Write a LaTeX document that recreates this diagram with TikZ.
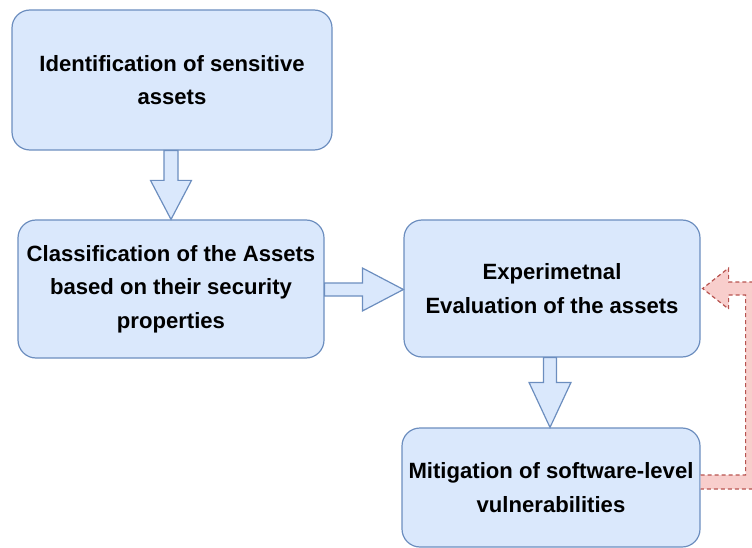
\documentclass[tikz,border=0pt]{standalone}
\usepackage{fontspec}
\setmainfont{Liberation Sans}
\usetikzlibrary{calc}
\definecolor{bfill}{HTML}{DAE8FC}
\definecolor{bline}{HTML}{6C8EBF}
\definecolor{rfill}{HTML}{F8CECC}
\definecolor{rline}{HTML}{B85450}
\tikzset{
  box/.style={draw=bline, fill=bfill, line width=1.2pt, rounded corners=18pt,
    align=center, inner sep=0pt,
    font=\fontsize{22.1}{33.5}\selectfont\bfseries},
  barrow/.style={draw=bline, fill=bfill, line width=1.2pt, line join=miter},
  farrow/.style={draw=rline, fill=rfill, line width=1.2pt, dash pattern=on 4pt off 3pt}
}
\begin{document}
\begin{tikzpicture}[x=1pt,y=1pt]
\useasboundingbox (0,0) rectangle (752,-548);
\clip (0,0) rectangle (752,-548);
% boxes
\node[box, minimum width=320pt, minimum height=140pt] (b1) at (172,-80)
  {Identification of sensitive\\assets};
\node[box, minimum width=306pt, minimum height=138pt] (b2) at (171,-289)
  {Classification of the Assets\\based on their security\\properties};
\node[box, minimum width=296pt, minimum height=137pt] (b3) at (552,-288.5)
  {Experimetnal\\Evaluation of the assets};
\node[box, minimum width=298pt, minimum height=119pt] (b4) at (551,-487.5)
  {Mitigation of software-level\\vulnerabilities};
% arrow b1 -> b2
\path let \p1=(b1.south), \p2=(b2.north) in
  coordinate (a1s) at (171,\y1) coordinate (a1t) at (171,\y2);
\draw[barrow] ($(a1s)+(-7,0)$) -- ($(a1s)+(7,0)$) -- ($(a1t)+(7,39)$) -- ($(a1t)+(20.5,39)$)
  -- (a1t) -- ($(a1t)+(-20.5,39)$) -- ($(a1t)+(-7,39)$) -- cycle;
% arrow b2 -> b3
\path let \p1=(b2.east), \p2=(b3.west) in
  coordinate (a2s) at (\x1,-289.5) coordinate (a2t) at (\x2,-289.5);
\draw[barrow] ($(a2s)+(0,6.5)$) -- ($(a2t)+(-41,6.5)$) -- ($(a2t)+(-41,21.5)$)
  -- (a2t) -- ($(a2t)+(-41,-21.5)$) -- ($(a2t)+(-41,-6.5)$) -- ($(a2s)+(0,-6.5)$) -- cycle;
% arrow b3 -> b4
\path let \p1=(b3.south), \p2=(b4.north) in
  coordinate (a3s) at (550,\y1) coordinate (a3t) at (550,\y2);
\draw[barrow] ($(a3s)+(-6.5,0)$) -- ($(a3s)+(6.5,0)$) -- ($(a3t)+(6.5,45)$) -- ($(a3t)+(21,45)$)
  -- (a3t) -- ($(a3t)+(-21,45)$) -- ($(a3t)+(-6.5,45)$) -- cycle;
% feedback arrow b4 -> b3
\path let \p1=(b4.east), \p2=(b3.east) in
  coordinate (fs) at (\x1,-482) coordinate (ft) at (\x2+2,-288.5);
\draw[farrow] ($(fs)+(0,7)$) -- ($(fs)+(45,7)$) -- ($(ft)+(43,-6.5)$) -- ($(ft)+(26,-6.5)$)
  -- ($(ft)+(26,-20.5)$) -- (ft) -- ($(ft)+(26,20.5)$) -- ($(ft)+(26,6.5)$)
  -- ($(ft)+(58,6.5)$) -- ($(fs)+(58,-7)$) -- ($(fs)+(0,-7)$);
\end{tikzpicture}
\end{document}
